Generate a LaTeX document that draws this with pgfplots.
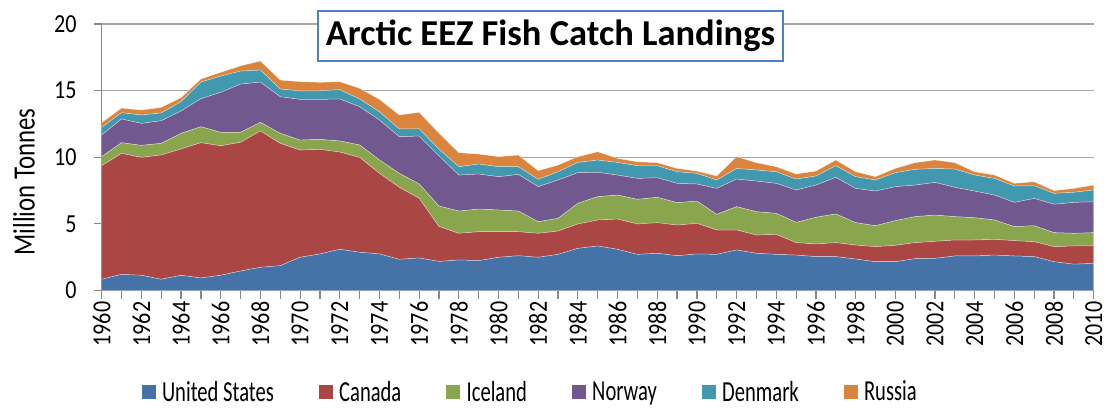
\documentclass[border=0pt]{standalone}
\usepackage{pgfplots}
\pgfplotsset{compat=1.18}
\usepackage{pgfplotstable}
\usepackage{fontspec}
\setmainfont{Carlito}
\newfontfamily\condf{Carlito}[FakeStretch=0.8]
\newfontfamily\tickf{Carlito}[FakeStretch=0.85]
\newfontfamily\legf{Carlito}[FakeStretch=0.71]
\definecolor{cus}{HTML}{4572A7}
\definecolor{cca}{HTML}{AA4643}
\definecolor{cic}{HTML}{89A54E}
\definecolor{cno}{HTML}{71588F}
\definecolor{cde}{HTML}{4198AF}
\definecolor{cru}{HTML}{DB843D}
\definecolor{axgray}{HTML}{888888}
\definecolor{gridgray}{HTML}{A6A6A6}
\definecolor{boxblue}{HTML}{4F81BD}
\pgfplotstableread{
year us ca ic no de ru
1960 0.84 8.52 0.68 1.63 0.57 0.35
1961 1.21 9.08 0.80 1.78 0.47 0.35
1962 1.14 8.85 0.90 1.65 0.63 0.37
1963 0.84 9.33 0.87 1.70 0.58 0.42
1964 1.14 9.48 1.17 1.68 0.70 0.30
1965 0.94 10.15 1.20 2.10 1.25 0.23
1966 1.14 9.72 1.01 3.00 1.22 0.28
1967 1.46 9.66 0.75 3.62 0.98 0.39
1968 1.74 10.23 0.65 3.02 0.90 0.68
1969 1.86 9.18 0.75 2.75 0.58 0.67
1970 2.49 8.05 0.75 3.05 0.63 0.70
1971 2.74 7.85 0.75 3.00 0.65 0.63
1972 3.09 7.30 0.83 3.15 0.70 0.60
1973 2.87 7.12 0.93 2.87 0.58 0.80
1974 2.74 6.05 1.00 3.00 0.62 0.93
1975 2.34 5.40 1.05 2.75 0.58 1.05
1976 2.44 4.48 1.07 3.60 0.55 1.23
1977 2.18 2.62 1.54 3.76 0.50 1.20
1978 2.29 2.00 1.67 2.70 0.63 1.05
1979 2.24 2.17 1.70 2.63 0.75 0.75
1980 2.49 1.92 1.63 2.50 0.75 0.75
1981 2.61 1.80 1.55 2.75 0.58 0.87
1982 2.49 1.80 0.87 2.63 0.55 0.65
1983 2.71 1.75 0.95 2.88 0.62 0.50
1984 3.16 1.83 1.55 2.30 0.77 0.43
1985 3.34 1.95 1.75 1.83 0.92 0.62
1986 3.09 2.27 1.80 1.50 0.95 0.30
1987 2.71 2.28 1.85 1.57 0.95 0.30
1988 2.79 2.30 1.90 1.47 0.90 0.23
1989 2.61 2.30 1.68 1.45 0.87 0.25
1990 2.74 2.30 1.67 1.28 0.80 0.17
1991 2.71 1.83 1.17 1.95 0.63 0.30
1992 3.04 1.50 1.75 2.07 0.80 0.88
1993 2.79 1.37 1.75 2.30 0.83 0.55
1994 2.71 1.50 1.58 2.25 0.87 0.38
1995 2.66 0.93 1.52 2.43 0.82 0.38
1996 2.54 0.95 2.00 2.42 0.68 0.37
1997 2.54 1.05 2.15 2.75 0.87 0.43
1998 2.36 1.05 1.68 2.57 0.88 0.37
1999 2.16 1.13 1.57 2.60 0.83 0.25
2000 2.16 1.23 1.85 2.55 1.05 0.32
2001 2.39 1.20 1.95 2.37 1.18 0.50
2002 2.41 1.28 1.97 2.45 1.05 0.63
2003 2.59 1.20 1.75 2.20 1.37 0.48
2004 2.59 1.20 1.67 2.00 1.20 0.25
2005 2.66 1.18 1.45 1.87 1.25 0.25
2006 2.59 1.15 1.05 1.82 1.23 0.20
2007 2.54 1.12 1.20 2.05 0.95 0.30
2008 2.16 1.13 1.05 2.13 0.82 0.20
2009 1.97 1.37 0.95 2.32 0.76 0.29
2010 2.04 1.32 0.98 2.32 0.88 0.37
}\catchdata
\begin{document}
\begin{tikzpicture}
\path[use as bounding box] (-101.7pt,-116.5pt) rectangle (1003.3pt,290.5pt);
\begin{axis}[
  at={(0pt,0pt)}, anchor=south west,
  scale only axis, width=992pt, height=266.5pt,
  xmin=1960, xmax=2010, ymin=0, ymax=20,
  stack plots=y,
  axis x line=bottom, axis y line=left,
  axis line style={-, draw=axgray, line width=1.2pt},
  xtick={1960,1962,...,2010},
  minor xtick={1961,1963,...,2009},
  ytick={0,5,10,15,20},
  ymajorgrids, major grid style={draw=gridgray, line width=1.2pt},
  tick align=outside,
  major tick length=8pt, minor tick length=8pt,
  every tick/.style={draw=axgray, line width=1.2pt},
  minor tick style={draw=axgray, line width=1.2pt},
  /pgf/number format/assume math mode=true,
  /pgf/number format/1000 sep={},
  tick label style={font=\tickf\fontsize{26}{26}\selectfont},
  x tick label style={rotate=90, anchor=east, inner sep=3pt},
  y tick label style={inner sep=2pt, xshift=-15pt},
  ylabel={Million Tonnes},
  ylabel style={font=\condf\fontsize{31}{31}\selectfont, at={(axis description cs:-0.0783,0.407)}, anchor=center},
  legend style={at={(axis description cs:0.432,-0.38)}, anchor=center, draw=none,
    font=\legf\fontsize{29}{29}\selectfont, legend columns=-1,
    /tikz/every even column/.append style={column sep=43pt}},
  legend image code/.code={\fill[#1,draw=none] (0pt,-7pt) rectangle (14pt,7pt); \path (18pt,0pt);},
  every axis plot/.append style={draw=white, draw opacity=0.5, line width=0.5pt},
]
\addplot[fill=cus] table[x=year,y=us] {\catchdata} \closedcycle;
\addlegendentry{United States}
\addplot[fill=cca] table[x=year,y=ca] {\catchdata} \closedcycle;
\addlegendentry{Canada}
\addplot[fill=cic] table[x=year,y=ic] {\catchdata} \closedcycle;
\addlegendentry{Iceland}
\addplot[fill=cno] table[x=year,y=no] {\catchdata} \closedcycle;
\addlegendentry{Norway}
\addplot[fill=cde] table[x=year,y=de] {\catchdata} \closedcycle;
\addlegendentry{Denmark}
\addplot[fill=cru] table[x=year,y=ru] {\catchdata} \closedcycle;
\addlegendentry{Russia}
\end{axis}
\node[draw=boxblue, line width=1.2pt, fill=white, minimum width=465pt, minimum height=50pt,
  font=\bfseries\fontsize{36.5}{36.5}\selectfont] at (448.8pt,254.5pt) {Arctic EEZ Fish Catch Landings};
\end{tikzpicture}
\end{document}
